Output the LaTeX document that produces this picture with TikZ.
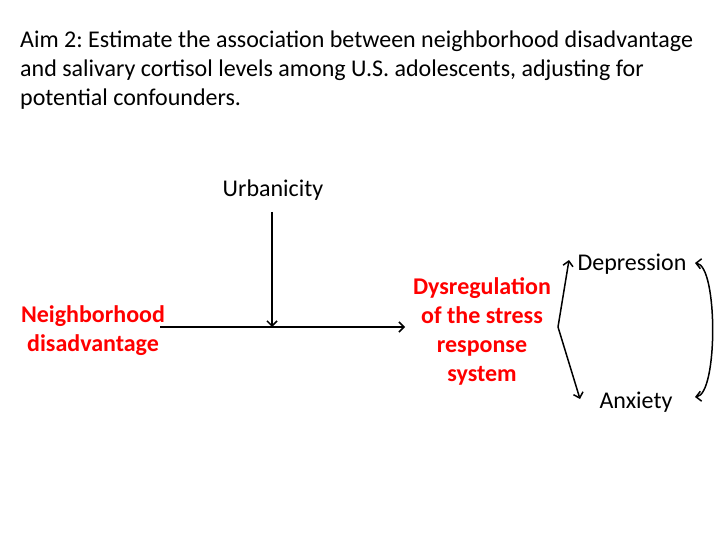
\documentclass[tikz,border=0pt]{standalone}
\usepackage{fontspec}
\setmainfont{Carlito}
\usetikzlibrary{arrows.meta}
\definecolor{redlbl}{RGB}{255,0,0}
\frenchspacing
\begin{document}
\begin{tikzpicture}[x=1pt,y=-1pt,
  title/.style={anchor=base west,inner sep=0pt,font=\fontsize{24}{29}\selectfont},
  lbl/.style={inner sep=1pt,font=\fontsize{24}{29}\selectfont,align=center},
  redl/.style={lbl,text=redlbl,font=\fontsize{24}{29}\selectfont\bfseries},
  arr/.style={line width=1.5pt,-{Straight Barb[length=5pt,width=10pt]}},
  darr/.style={line width=1.5pt,{Straight Barb[length=5pt,width=10pt]}-{Straight Barb[length=5pt,width=10pt]}}]
\useasboundingbox (0,0) rectangle (720,540);
\node[title] (t1) at (20,48) {Aim 2: Estimate the association between neighborhood disadvantage};
\node[title] (t2) at (20,77) {and salivary cortisol levels among U.S. adolescents, adjusting for};
\node[title] (t3) at (20,106) {potential confounders.};
\node[lbl] (urb) at (273,190) {Urbanicity};
\node[redl] (nd) at (93,331) {Neighborhood\\disadvantage};
\node[redl] (dys) at (482,331) {Dysregulation\\of the stress\\response\\system};
\node[lbl] (dep) at (632,264) {Depression};
\node[lbl] (anx) at (636,402) {Anxiety};
\coordinate (hs) at (160,327);
\coordinate (he) at (405,327);
\coordinate (vs) at (272,212);
\coordinate (ve) at (272,327);
\coordinate (fork) at (558,327);
\coordinate (dt) at (569,260);
\coordinate (at) at (580,399);
\coordinate (ct) at (695,263);
\coordinate (cb) at (695,397);
\draw[arr] (hs) -- (he);
\draw[arr] (vs) -- (ve);
\draw[arr] (fork) -- (dt);
\draw[arr] (fork) -- (at);
\draw[darr] (ct) .. controls (718,266) and (718,394) .. (cb);
\end{tikzpicture}
\end{document}
